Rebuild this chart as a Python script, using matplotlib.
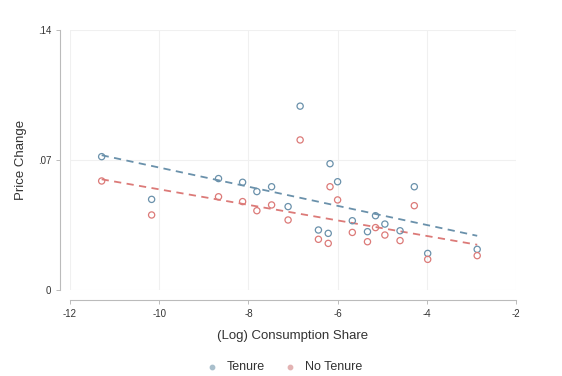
import numpy as np
import matplotlib
matplotlib.use("Agg")
import matplotlib.pyplot as plt

plt.rcParams['font.family'] = ['Liberation Sans', 'DejaVu Sans']

# (log) consumption share for each good
log_share = [-11.29, -10.17, -8.67, -8.13, -7.81, -7.48, -7.11, -6.84, -6.43, -6.21,
             -6.17, -6.00, -5.67, -5.33, -5.15, -4.94, -4.60, -4.28, -3.98, -2.87]
# price change, tenure vs no tenure
tenure = [0.0718, 0.0488, 0.0600, 0.0580, 0.0530, 0.0556, 0.0449, 0.0990, 0.0323, 0.0305,
          0.0680, 0.0583, 0.0373, 0.0314, 0.0400, 0.0355, 0.0319, 0.0556, 0.0197, 0.0219]
no_tenure = [0.0587, 0.0404, 0.0502, 0.0476, 0.0427, 0.0458, 0.0377, 0.0808, 0.0273, 0.0251,
             0.0556, 0.0485, 0.0310, 0.0260, 0.0336, 0.0296, 0.0266, 0.0454, 0.0165, 0.0185]

blue = '#6a91ab'
red = '#dc7a78'

fig = plt.figure(figsize=(5.62, 3.76), dpi=100)
ax = fig.add_axes([70/562, 86/376, 446/562, 260/376])

x = np.array(log_share)
xs = np.array([x.min(), x.max()])
for y, c in [(tenure, blue), (no_tenure, red)]:
    b, a = np.polyfit(x, y, 1)
    ax.plot(xs, a + b * xs, ls=(0, (4, 3)), color=c, lw=1.3, zorder=2)

ax.scatter(log_share, tenure, s=20, facecolors='none', edgecolors=blue, linewidths=0.9, zorder=3)
ax.scatter(log_share, no_tenure, s=20, facecolors='none', edgecolors=red, linewidths=0.9, zorder=3)

ax.set_xlim(-12, -2)
ax.set_ylim(0, 0.14)
ax.set_xticks([-12, -10, -8, -6, -4, -2])
ax.set_xticklabels(['-12', '-10', '-8', '-6', '-4', '-2'])
ax.set_yticks([0, 0.07, 0.14])
ax.set_yticklabels(['0', '.07', '.14'])
ax.grid(True, color='#f0f0f0', lw=0.8)
ax.set_axisbelow(True)

for s in ['top', 'right']:
    ax.spines[s].set_visible(False)
for s in ['left', 'bottom']:
    ax.spines[s].set_position(('outward', 7))
    ax.spines[s].set_color('#bbbbbb')
    ax.spines[s].set_linewidth(0.8)
ax.tick_params(colors='#bbbbbb', labelcolor='#333333', labelsize=7, length=3, width=0.7)

ax.set_xlabel('(Log) Consumption Share', fontsize=9.5, color='#333333', labelpad=8)
ax.set_ylabel('Price Change', fontsize=9.5, color='#333333', labelpad=8)

h1 = ax.scatter([], [], s=10, color='#a9bfcc')
h2 = ax.scatter([], [], s=10, color='#e3b3b3')
fig.legend([h1, h2], ['Tenure', 'No Tenure'], loc='center', bbox_to_anchor=(0.5, 0.023),
           ncol=2, frameon=False, fontsize=9, handletextpad=0.2, columnspacing=1.0,
           labelcolor='#333333')

fig.savefig('out.png', dpi=100)
